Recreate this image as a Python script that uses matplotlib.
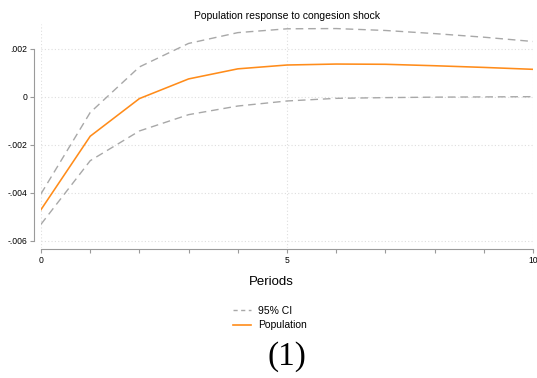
import matplotlib
matplotlib.use("Agg")
import matplotlib.pyplot as plt
from matplotlib.lines import Line2D

# Impulse response of population to a congestion shock, periods 0..10
periods = [0, 1, 2, 3, 4, 5, 6, 7, 8, 9, 10]
population = [-0.00470, -0.00164, -0.00007, 0.00075, 0.00117, 0.00133,
              0.00137, 0.00136, 0.00130, 0.00123, 0.00115]
ci_upper = [-0.00404, -0.00065, 0.00125, 0.00223, 0.00268, 0.00284,
            0.00285, 0.00277, 0.00264, 0.00249, 0.00231]
ci_lower = [-0.00531, -0.00266, -0.00142, -0.00074, -0.00038, -0.00017,
            -0.00006, -0.00003, -0.00001, 0.00000, 0.00001]

y_ticks = [-0.006, -0.004, -0.002, 0.0, 0.002]
y_tick_labels = ["-.006", "-.004", "-.002", "0", ".002"]
x_ticks = [0, 5, 10]
x_tick_labels = ["0", "5", "10"]

plt.rcParams["font.family"] = ["Liberation Sans", "DejaVu Sans"]

W, H = 537, 378
fig = plt.figure(figsize=(W / 100, H / 100), dpi=100)
ax = fig.add_axes([41 / W, 1 - 248 / H, (533 - 41) / W, (248 - 24) / H])

ci_color = "#a8a8a8"
pop_color = "#ff8c1a"
dash = (0, (5.5, 3.5))

ax.plot(periods, ci_upper, color=ci_color, lw=1.0, linestyle=dash)
ax.plot(periods, ci_lower, color=ci_color, lw=1.0, linestyle=dash)
ax.plot(periods, population, color=pop_color, lw=1.15)

ax.set_xlim(0, 10)
ax.set_ylim(-0.0063, 0.00304)

ax.set_yticks(y_ticks)
ax.set_yticklabels(y_tick_labels)
ax.set_xticks(x_ticks)
ax.set_xticklabels(x_tick_labels)
ax.set_xticks(range(0, 11), minor=True)

ax.grid(True, which="major", color="#dedede", linestyle=(0, (1, 2)), lw=0.8)

for s in ("top", "right"):
    ax.spines[s].set_visible(False)
ax.spines["left"].set_position(("outward", 7 * 72 / 100))
ax.spines["left"].set_bounds(-0.006, 0.002)
ax.spines["bottom"].set_position(("outward", 1 * 72 / 100))
ax.spines["bottom"].set_bounds(0, 10)
for s in ("left", "bottom"):
    ax.spines[s].set_color("#9a9a9a")
    ax.spines[s].set_linewidth(0.8)

ax.tick_params(axis="both", which="both", color="#9a9a9a", width=0.8,
               length=3, labelsize=6.2, pad=2)
ax.tick_params(axis="x", which="minor", length=3)

ax.set_title("Population response to congesion shock", fontsize=7.5, pad=3.5)

fig.text(271 / W, 1 - 282 / H, "Periods", fontsize=9.5,
         ha="center", va="center")

handles = [Line2D([], [], color=ci_color, lw=1.0, linestyle=(0, (3, 2.5))),
           Line2D([], [], color=pop_color, lw=1.2)]
fig.legend(handles, ["95% CI", "Population"], loc="center",
           bbox_to_anchor=(270 / W, 1 - 318 / H), frameon=False,
           fontsize=7.5, handlelength=1.7, handletextpad=0.7,
           labelspacing=0.45)

fig.text(287 / W, 1 - 357 / H, "(1)", fontsize=24,
         family="Liberation Serif", ha="center", va="center")

fig.savefig("out.png", dpi=100)
